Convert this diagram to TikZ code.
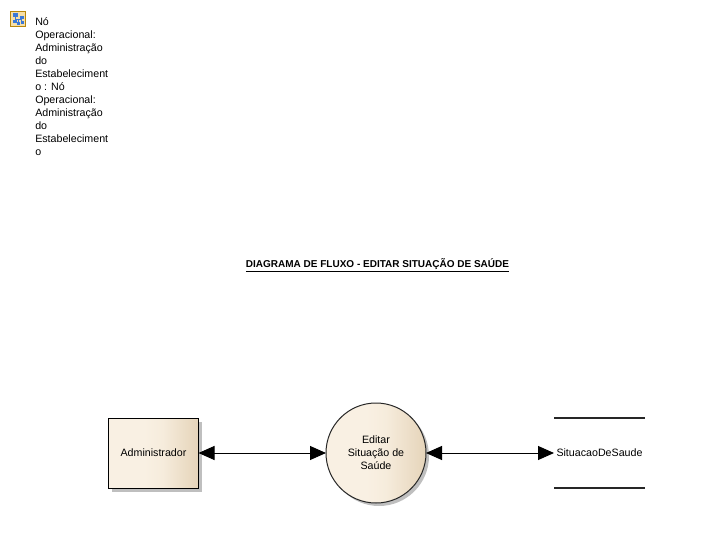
\documentclass[tikz,border=0pt]{standalone}
\usepackage{fontspec}
\setmainfont{Liberation Sans}
\usetikzlibrary{arrows.meta}
\definecolor{sandA}{HTML}{F9F0E3}
\definecolor{sandB}{HTML}{F6ECDC}
\definecolor{sandC}{HTML}{E6D5BB}
\definecolor{iconedge}{HTML}{B8860B}
\definecolor{iconfill}{HTML}{F6DFA8}
\definecolor{iconblue}{HTML}{3A78D8}
\pgfdeclarehorizontalshading{sandshade}{100bp}{
  color(0bp)=(sandA); color(45bp)=(sandA); color(55bp)=(sandB); color(74bp)=(sandC); color(100bp)=(sandC)}
\tikzset{
  lbl/.style={font=\fontsize{8}{9.75}\selectfont, text=black, align=center, inner sep=0pt},
  entitybox/.style={rectangle, draw=black, line width=0.75pt, shading=sandshade, minimum width=67.5pt, minimum height=52.5pt, inner sep=0pt, outer sep=0pt},
  procbox/.style={circle, draw=black!85, line width=0.75pt, shading=sandshade, minimum size=75pt, inner sep=0pt, outer sep=0pt},
  storebox/.style={rectangle, minimum width=68.25pt, minimum height=52.5pt, inner sep=0pt, outer sep=0pt},
  storeline/.style={line width=1.4pt, draw=black!85},
  flow/.style={line width=0.75pt, {Triangle[length=12pt,width=10.5pt]}-{Triangle[length=12pt,width=10.5pt]}},
}
\begin{document}
\begin{tikzpicture}[x=0.75pt,y=-0.75pt]
\useasboundingbox (0,0) rectangle (704,553);
% shadows
\fill[black!25] (112,422) rectangle (202,492);
\fill[black!25] (379,456) circle[radius=50];
% nodes
\node[entitybox,lbl] (adm) at (153.5,453) {Administrador};
\node[procbox,lbl] (proc) at (376,453) {Editar\\Situação de\\Saúde};
\node[storebox,lbl] (store) at (599.5,453) {SituacaoDeSaude};
\draw[storeline] (store.north west) -- (store.north east);
\draw[storeline] (store.south west) -- (store.south east);
% connectors
\draw[flow] (adm.east) -- (proc.west);
\draw[flow] (proc.east) -- (store.west);
% title
\node[lbl,font=\fontsize{7.5}{10}\selectfont\bfseries] (title) at (377.5,265) {\underline{DIAGRAMA DE FLUXO - EDITAR SITUAÇÃO DE SAÚDE}};
% icon
\draw[draw=iconedge,fill=iconfill,line width=1pt] (10.5,11.5) rectangle (25.5,26.5);
\draw[iconblue,line width=0.4pt] (15,15) -- (15,19) -- (21,19) -- (21,22) (15,19) -- (15,22) (18,19) -- (18,23);
\fill[iconblue] (13,13) rectangle (18,16.5);
\fill[iconblue] (13,19.5) rectangle (16.5,22.5);
\fill[iconblue] (19.5,15.5) rectangle (23.5,18.5);
\fill[iconblue] (16.5,22) rectangle (20,25);
\fill[iconblue] (20.5,21) rectangle (24,24);
% note
\node[lbl,align=left,anchor=north west] (note) at (35,17) {Nó\\Operacional:\\Administração\\do\\Estabeleciment\\o : Nó\\Operacional:\\Administração\\do\\Estabeleciment\\o};
\end{tikzpicture}
\end{document}
